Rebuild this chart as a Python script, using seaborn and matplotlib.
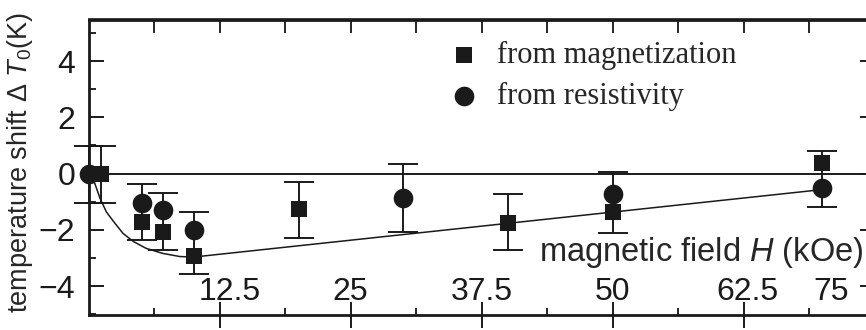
import matplotlib
matplotlib.use('Agg')
import matplotlib.pyplot as plt
from matplotlib.transforms import ScaledTranslation
import numpy as np
import seaborn as sns

# Valores: campo H (kOe) y desplazamiento dT0 (K)
mag_H = [1.2, 5.1, 7.1, 10.1, 20.1, 40.0, 50.0, 70.0]
mag_dT = [0.0, -1.71, -2.07, -2.94, -1.27, -1.75, -1.36, 0.36]
res_H = [0.0, 5.1, 7.1, 10.1, 30.0, 50.0, 70.0]
res_dT = [0.0, -1.04, -1.30, -2.00, -0.88, -0.73, -0.53]

# barras de error (una por valor de campo)
err_H = [0.0, 1.2, 5.1, 7.1, 10.1, 20.1, 30.0, 40.0, 50.0, 70.0]
err_top = [0.97, 0.97, -0.38, -0.70, -1.38, -0.29, 0.33, -0.74, 0.05, 0.81]
err_bot = [-1.04, -1.04, -2.36, -2.72, -3.57, -2.28, -2.09, -2.72, -2.12, -1.18]

# curva guia
fit_H = [0.0, 0.6, 1.1, 1.7, 2.4, 3.3, 4.3, 5.5, 7.1, 8.7, 10.0, 12.0, 20.0, 30.0, 40.0, 50.0, 60.0, 70.0]
fit_dT = [0.0, -0.35, -0.88, -1.36, -1.71, -2.13, -2.42, -2.66, -2.84, -2.95, -2.97, -2.89, -2.57, -2.17, -1.77, -1.37, -0.97, -0.57]

x_major = [12.5, 25, 37.5, 50, 62.5, 75]
x_labels = ['12.5', '25', '37.5', '50', '62.5', '75']
x_minor = [6.25, 18.75, 31.25, 43.75, 56.25, 68.75]
x_top = [6.25, 12.5, 18.75, 25, 31.25, 37.5, 43.75, 50, 56.25, 62.5, 68.75]
y_major = [-4, -2, 0, 2, 4]
y_minor = [-5, -3, -1, 1, 3, 5]

sns.set_theme(style='ticks')
plt.rcParams['font.family'] = ['Liberation Sans', 'DejaVu Sans']
plt.rcParams['mathtext.fontset'] = 'custom'
plt.rcParams['mathtext.rm'] = 'Liberation Sans'
plt.rcParams['mathtext.it'] = 'Liberation Sans:italic'

fig = plt.figure(figsize=(8.66, 3.3), dpi=100)
ax = fig.add_axes([88.5 / 866, 15 / 330, 786 / 866, 295.5 / 330])

ax.axhline(0, color='k', lw=1.4, zorder=1)
sns.lineplot(x=fit_H, y=fit_dT, sort=False, estimator=None, color='k', lw=1.1, ax=ax)

centro = (np.array(err_top) + np.array(err_bot)) / 2
semi = (np.array(err_top) - np.array(err_bot)) / 2
ax.errorbar(err_H, centro, yerr=semi, fmt='none', ecolor='k', elinewidth=1.4,
            capsize=10.8, capthick=1.4, clip_on=False)

sns.scatterplot(x=mag_H, y=mag_dT, marker='s', s=125, color='k', linewidth=0,
                label='from magnetization', ax=ax, clip_on=False, zorder=3)
sns.scatterplot(x=res_H, y=res_dT, marker='o', s=200, color='k', linewidth=0,
                label='from resistivity', ax=ax, clip_on=False, zorder=3)

ax.set_xlim(0, 75)
ax.set_ylim(-5.03, 5.48)

for s in ax.spines.values():
    s.set_linewidth(2.0)
    s.set_color('k')

ax.set_xticks(x_major)
ax.set_xticklabels(x_labels)
ax.set_xticks(x_minor, minor=True)
ax.set_yticks(y_major)
ax.set_yticks(y_minor, minor=True)
ax.tick_params(axis='x', which='major', direction='inout', length=18.7, width=1.4,
               pad=-36.8, labelsize=23, colors='k')
ax.tick_params(axis='x', which='minor', direction='in', length=5, width=1.4)
ax.tick_params(axis='y', which='major', direction='in', length=10.8, width=1.4,
               pad=9.5, labelsize=23, right=True, colors='k')
ax.tick_params(axis='y', which='minor', direction='in', length=5, width=1.4, right=True)

arriba = ax.secondary_xaxis('top')
arriba.set_xticks(x_top)
arriba.tick_params(direction='in', length=10, width=1.4, labeltop=False)
arriba.spines['top'].set_linewidth(2.0)

# ajustes finos de posicion de algunas etiquetas
desplaz = {'12.5': 7, '62.5': 3, '75': -31}
for tick in ax.xaxis.get_major_ticks():
    lab = tick.label1
    dx = desplaz.get(lab.get_text(), 0)
    if dx:
        lab.set_transform(lab.get_transform() + ScaledTranslation(dx / 72, 0, fig.dpi_scale_trans))

ax.set_ylabel(r'temperature shift $\Delta\ \mathit{T}_\mathit{0}$(K)', fontsize=19.5)
ax.yaxis.set_label_coords(-0.068, 0.515)
ax.set_xlabel(r'magnetic field $\mathit{H}$ (kOe)', fontsize=23.5, ha='right', va='center')
ax.xaxis.set_label_coords(0.986, 0.213)

ax.legend(loc='upper left', bbox_to_anchor=(0.458, 0.928), frameon=False,
          prop={'family': 'Liberation Serif', 'size': 22}, handlelength=1.0,
          handletextpad=0.6, labelspacing=0.4, borderpad=0, borderaxespad=0,
          scatterpoints=1)

fig.savefig('out.png', dpi=100)
